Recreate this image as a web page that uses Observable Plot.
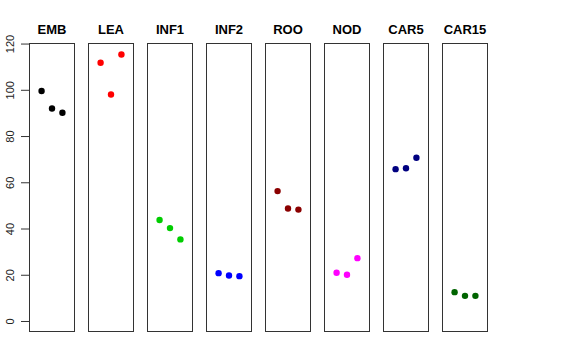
<!DOCTYPE html>
<html>
<head>
<meta charset="utf-8">
<script src="https://cdn.jsdelivr.net/npm/d3@7"></script>
<script src="https://cdn.jsdelivr.net/npm/@observablehq/plot@0.6"></script>
<style>
  body { margin: 0; background: #fff; }
  svg { font-family: "Liberation Sans", Arial, sans-serif; }
</style>
</head>
<body>
<div id="chart"></div>
<script>
const panels = ["EMB", "LEA", "INF1", "INF2", "ROO", "NOD", "CAR5", "CAR15"];
const colors = ["#000000", "#FF0000", "#00CD00", "#0000FF", "#8B0000", "#FF00FF", "#000080", "#006400"];
const EMB = [99.7, 92.1, 90.3];
const LEA = [111.9, 98.2, 115.5];
const INF1 = [43.9, 40.4, 35.5];
const INF2 = [20.9, 19.9, 19.6];
const ROO = [56.4, 48.9, 48.4];
const NOD = [21.1, 20.2, 27.4];
const CAR5 = [65.9, 66.3, 70.8];
const CAR15 = [12.7, 11.1, 11.1];
const yTicks = [0, 20, 40, 60, 80, 100, 120];

const series = [EMB, LEA, INF1, INF2, ROO, NOD, CAR5, CAR15];
const data = [];
series.forEach((vals, i) => vals.forEach((v, j) => data.push({panel: panels[i], idx: j + 1, value: v, color: colors[i]})));

const chart = Plot.plot({
  width: 576,
  height: 360,
  marginLeft: 29,
  marginRight: 88,
  marginTop: 43,
  marginBottom: 29,
  style: {fontFamily: "Liberation Sans, Arial, sans-serif", background: "#fff"},
  fx: {domain: panels, paddingInner: 0.237, paddingOuter: 0, axis: null},
  x: {domain: [-0.16, 4.16], axis: null},
  y: {domain: [-4.33, 120.24], axis: null},
  marks: [
    Plot.frame({stroke: "#333", strokeWidth: 1}),
    Plot.axisY(yTicks, {facetAnchor: "left", label: null, tickSize: 8, tickRotate: -90, tickPadding: 8, fontSize: 11, stroke: "#333", fill: "#222", textAnchor: "middle"}),
    Plot.dot(data, {fx: "panel", x: "idx", y: "value", fill: "color", r: 3.2, stroke: null}),
    Plot.text(panels, {fx: d => d, text: d => d, frameAnchor: "top", dy: -19, fontWeight: "bold", fontSize: 13, fill: "#000"})
  ]
});
document.getElementById("chart").appendChild(chart);
</script>
</body>
</html>
